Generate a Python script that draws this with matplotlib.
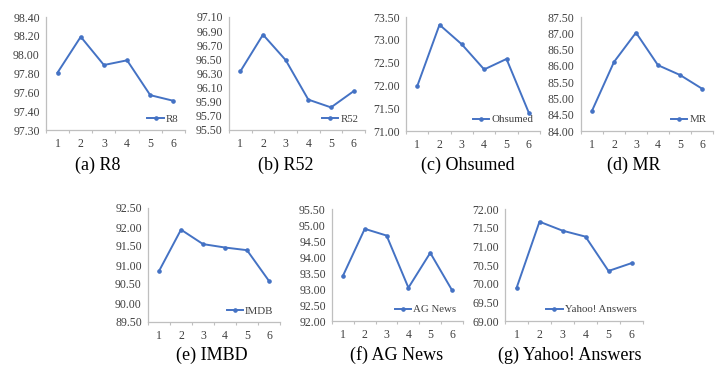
import numpy as np
import matplotlib
matplotlib.use("Agg")
import matplotlib.pyplot as plt

plt.rcParams['font.family'] = ['Liberation Serif', 'DejaVu Serif']

x = [1, 2, 3, 4, 5, 6]

names = ['R8', 'R52', 'Ohsumed', 'MR', 'IMDB', 'AG News', 'Yahoo! Answers']
captions = ['(a) R8', '(b) R52', '(c) Ohsumed', '(d) MR',
            '(e) IMBD', '(f) AG News', '(g) Yahoo! Answers']

r8 = [97.81, 98.19, 97.89, 97.94, 97.57, 97.51]
r52 = [96.33, 96.85, 96.49, 95.93, 95.82, 96.05]
ohsumed = [71.98, 73.33, 72.90, 72.35, 72.58, 71.40]
mr = [84.62, 86.12, 87.02, 86.02, 85.72, 85.30]
imdb = [90.84, 91.93, 91.55, 91.46, 91.39, 90.58]
agnews = [93.41, 94.88, 94.67, 93.04, 94.13, 92.96]
yahoo = [69.88, 71.66, 71.42, 71.26, 70.34, 70.55]
series = [r8, r52, ohsumed, mr, imdb, agnews, yahoo]

# y ticks per panel (the R8 chart labels its lowest tick 97.30)
yticks = [
    [97.2, 97.4, 97.6, 97.8, 98.0, 98.2, 98.4],
    [95.5, 95.7, 95.9, 96.1, 96.3, 96.5, 96.7, 96.9, 97.1],
    [71.0, 71.5, 72.0, 72.5, 73.0, 73.5],
    [84.0, 84.5, 85.0, 85.5, 86.0, 86.5, 87.0, 87.5],
    [89.5, 90.0, 90.5, 91.0, 91.5, 92.0, 92.5],
    [92.0, 92.5, 93.0, 93.5, 94.0, 94.5, 95.0, 95.5],
    [69.0, 69.5, 70.0, 70.5, 71.0, 71.5, 72.0],
]
ylabels = [['%.2f' % v for v in t] for t in yticks]
ylabels[0][0] = '97.30'

W, H = 723, 385
# axes boxes in pixels: left, top, right, bottom ; caption centre x, y
boxes = [
    (46, 17, 185, 130, 98, 165),
    (229, 17, 365, 130, 286, 165),
    (406, 17, 540, 131, 468, 165),
    (581, 17, 713, 131, 634, 165),
    (148, 208, 280, 322, 212, 355),
    (332, 209, 463, 321, 397, 355),
    (505, 209, 643, 321, 570, 355),
]

blue = '#4472C4'
grid = '#BFBFBF'
tcol = '#404040'

fig = plt.figure(figsize=(W / 100, H / 100), dpi=100)
for i in range(7):
    l, t, r, b, cx, cy = boxes[i]
    ax = fig.add_axes([l / W, 1 - b / H, (r - l) / W, (b - t) / H])
    ax.plot(x, series[i], color=blue, lw=1.4, marker='o', ms=2.3, label=names[i])
    ax.set_xlim(0.5, 6.5)
    ax.set_ylim(yticks[i][0], yticks[i][-1])
    ax.set_yticks(yticks[i])
    ax.set_yticklabels(ylabels[i])
    ax.set_xticks(x)
    ax.set_xticks(np.arange(0.5, 7, 1), minor=True)
    for s in ['top', 'right']:
        ax.spines[s].set_visible(False)
    for s in ['left', 'bottom']:
        ax.spines[s].set_color(grid)
        ax.spines[s].set_linewidth(0.9)
    ax.tick_params(axis='y', length=0, pad=4.5, labelsize=8.5, labelcolor=tcol)
    ax.tick_params(axis='x', which='major', length=0, pad=5.5, labelsize=8.5, labelcolor=tcol)
    ax.tick_params(axis='x', which='minor', length=2, color=grid, width=0.8)
    ax.legend(loc='lower right', frameon=False, fontsize=7.8, borderaxespad=0.2,
              handlelength=1.5, handletextpad=0.2, labelcolor=tcol)
    fig.text(cx / W, 1 - cy / H, captions[i], ha='center', va='center', fontsize=13)

fig.savefig('out.png', dpi=100)
